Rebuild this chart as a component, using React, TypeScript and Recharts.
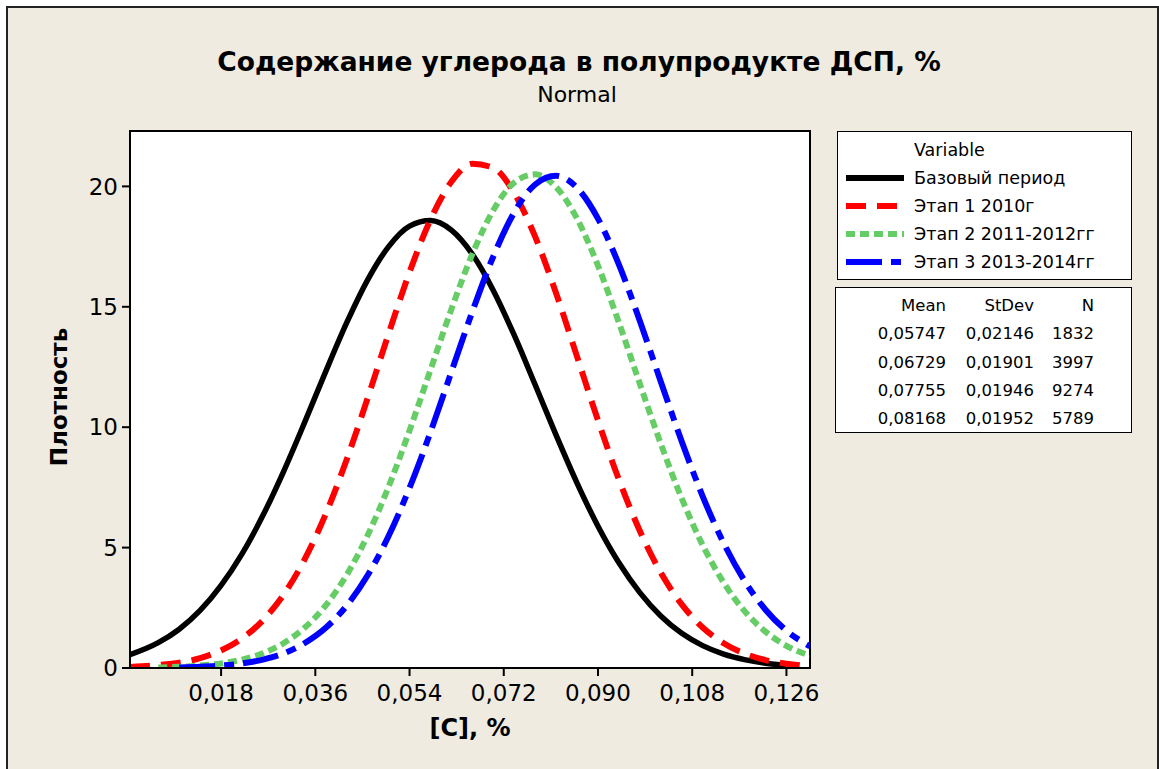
import React from 'react';
import { LineChart, Line, XAxis, YAxis, CartesianGrid, ReferenceArea } from 'recharts';

// содержание углерода, %
const carbon = [
  0.0006, 0.006, 0.010, 0.014, 0.018, 0.022, 0.026, 0.030, 0.034, 0.038, 0.042,
  0.046, 0.050, 0.054, 0.058, 0.062, 0.066, 0.070, 0.074, 0.078, 0.082, 0.086,
  0.090, 0.094, 0.098, 0.102, 0.106, 0.110, 0.114, 0.118, 0.122, 0.126, 0.1305,
];

// плотность по каждому периоду
const baseDensity = [
  0.55, 1.05, 1.61, 2.39, 3.43, 4.74, 6.34, 8.19, 10.22, 12.32, 14.34,
  16.12, 17.50, 18.35, 18.58, 18.18, 17.18, 15.68, 13.82, 11.76, 9.67, 7.68,
  5.89, 4.37, 3.13, 2.16, 1.44, 0.93, 0.58, 0.35, 0.20, 0.11, null,
];
const stage1Density = [
  0.04, 0.12, 0.22, 0.41, 0.73, 1.23, 1.98, 3.06, 4.53, 6.40, 8.66,
  11.21, 13.88, 16.44, 18.62, 20.19, 20.94, 20.77, 19.72, 17.91, 15.56, 12.93,
  10.28, 7.82, 5.69, 3.96, 2.64, 1.68, 1.03, 0.60, 0.33, 0.18, 0.08,
];
const stage2Density = [
  null, 0.02, 0.05, 0.10, 0.19, 0.35, 0.61, 1.04, 1.68, 2.60, 3.87,
  5.51, 7.53, 9.86, 12.38, 14.90, 17.19, 19.01, 20.16, 20.50, 19.97, 18.66,
  16.71, 14.34, 11.80, 9.31, 7.04, 5.10, 3.55, 2.36, 1.51, 0.92, 0.51,
];
const stage3Density = [
  null, null, 0.02, 0.05, 0.10, 0.19, 0.35, 0.61, 1.04, 1.67, 2.59,
  3.85, 5.48, 7.48, 9.79, 12.30, 14.80, 17.09, 18.92, 20.08, 20.44, 19.94,
  18.66, 16.75, 14.41, 11.89, 9.41, 7.13, 5.19, 3.62, 2.42, 1.55, 0.90,
];

const xTicks = [0.018, 0.036, 0.054, 0.072, 0.09, 0.108, 0.126];
const yTicks = [0, 5, 10, 15, 20];

const seriesNames = ['Базовый период', 'Этап 1 2010г', 'Этап 2 2011-2012гг', 'Этап 3 2013-2014гг'];
const means = ['0,05747', '0,06729', '0,07755', '0,08168'];
const stdevs = ['0,02146', '0,01901', '0,01946', '0,01952'];
const counts = ['1832', '3997', '9274', '5789'];

const data = carbon.map((c, i) => ({
  c,
  base: baseDensity[i],
  stage1: stage1Density[i],
  stage2: stage2Density[i],
  stage3: stage3Density[i],
}));

const styles = [
  { key: 'base', color: '#000000', dash: undefined, width: 5.5 },
  { key: 'stage1', color: '#ff0000', dash: '20 11', width: 6 },
  { key: 'stage2', color: '#66cc66', dash: '9 5', width: 6 },
  { key: 'stage3', color: '#0000ff', dash: '36 9 10 9', width: 6 },
];

const font = '"DejaVu Sans", Verdana, sans-serif';
const fmt = (v: number) => v.toFixed(3).replace('.', ',');

const LegendSample = ({ color, dash }: { color: string; dash?: string }) => (
  <svg width={60} height={10} style={{ position: 'absolute', left: 8, top: -5 }}>
    <line x1={0} y1={5} x2={58} y2={5} stroke={color} strokeWidth={6} strokeDasharray={dash} />
  </svg>
);

export default function App() {
  return (
    <div style={{ position: 'relative', width: 1159, height: 769, background: '#fff', overflow: 'hidden', fontFamily: font }}>
      <style>{`body{margin:0}`}</style>
      <div style={{ position: 'absolute', left: 6, top: 6, width: 1149, height: 780, border: '2px solid #222', background: '#efebe1' }} />

      <div style={{ position: 'absolute', left: 0, width: 1159, top: 45 }}>
        <div style={{ position: 'absolute', left: 579, transform: 'translateX(-50%)', whiteSpace: 'nowrap', fontWeight: 'bold', fontSize: 26.5, lineHeight: '34px', color: '#000' }}>
          Содержание углерода в полупродукте ДСП, %
        </div>
        <div style={{ position: 'absolute', left: 577, top: 37, transform: 'translateX(-50%)', whiteSpace: 'nowrap', fontSize: 22, lineHeight: '26px', color: '#000' }}>
          Normal
        </div>
      </div>

      <div style={{ position: 'absolute', left: 0, top: 0 }}>
        <LineChart width={1159} height={769} data={data} margin={{ top: 131, right: 349, bottom: 0, left: 0 }} style={{ fontFamily: font }}>
          <CartesianGrid horizontal={false} vertical={false} fill="#ffffff" />
          <XAxis
            dataKey="c"
            type="number"
            domain={[0.0006, 0.1305]}
            allowDataOverflow
            ticks={xTicks}
            tickFormatter={fmt}
            height={101}
            tickSize={8}
            tickMargin={9}
            stroke="#000"
            strokeWidth={2}
            tick={{ fill: '#000', fontSize: 23 }}
          />
          <YAxis
            type="number"
            domain={[0, 22.3]}
            allowDataOverflow
            ticks={yTicks}
            width={130}
            tickSize={8}
            tickMargin={4}
            stroke="#000"
            strokeWidth={2}
            tick={{ fill: '#000', fontSize: 23 }}
          />
          {styles.map((s) => (
            <Line
              key={s.key}
              dataKey={s.key}
              type="monotone"
              stroke={s.color}
              strokeWidth={s.width}
              strokeDasharray={s.dash}
              dot={false}
              activeDot={false}
              connectNulls={false}
              isAnimationActive={false}
            />
          ))}
          <ReferenceArea x1={0.0006} x2={0.1305} y1={0} y2={22.3} fill="none" stroke="#000" strokeWidth={2} />
        </LineChart>
      </div>

      <div style={{ position: 'absolute', left: 59, top: 397, transform: 'translate(-50%, -50%) rotate(-90deg)', fontWeight: 'bold', fontSize: 23, whiteSpace: 'nowrap' }}>
        Плотность
      </div>
      <div style={{ position: 'absolute', left: 470, top: 714, transform: 'translateX(-50%)', fontWeight: 'bold', fontSize: 24, lineHeight: '28px', whiteSpace: 'nowrap' }}>
        [C], %
      </div>

      {/* легенда */}
      <div style={{ position: 'absolute', left: 837, top: 131, width: 293, height: 147, border: '1.5px solid #000', background: '#fff', fontSize: 17.5 }}>
        <div style={{ position: 'absolute', left: 76, top: 7, lineHeight: '22px' }}>Variable</div>
        {seriesNames.map((name, i) => (
          <div key={name} style={{ position: 'absolute', left: 0, top: 46 + i * 28 }}>
            <LegendSample color={styles[i].color} dash={styles[i].dash} />
            <div style={{ position: 'absolute', left: 76, top: -11, lineHeight: '22px', whiteSpace: 'nowrap' }}>{name}</div>
          </div>
        ))}
      </div>

      <div style={{ position: 'absolute', left: 835, top: 287, width: 295, height: 144, border: '1.5px solid #000', background: '#fff', fontSize: 16.5 }}>
        {[['Mean', 'StDev', 'N'], ...means.map((m, i) => [m, stdevs[i], counts[i]])].map((row, r) => (
          <div key={r} style={{ position: 'absolute', left: 0, top: 18 + r * 28.3 - 10, width: 295, lineHeight: '20px' }}>
            {row.map((cell, j) => (
              <span key={j} style={{ position: 'absolute', right: 295 - [110, 198, 258][j], whiteSpace: 'nowrap' }}>{cell}</span>
            ))}
          </div>
        ))}
      </div>
    </div>
  );
}
